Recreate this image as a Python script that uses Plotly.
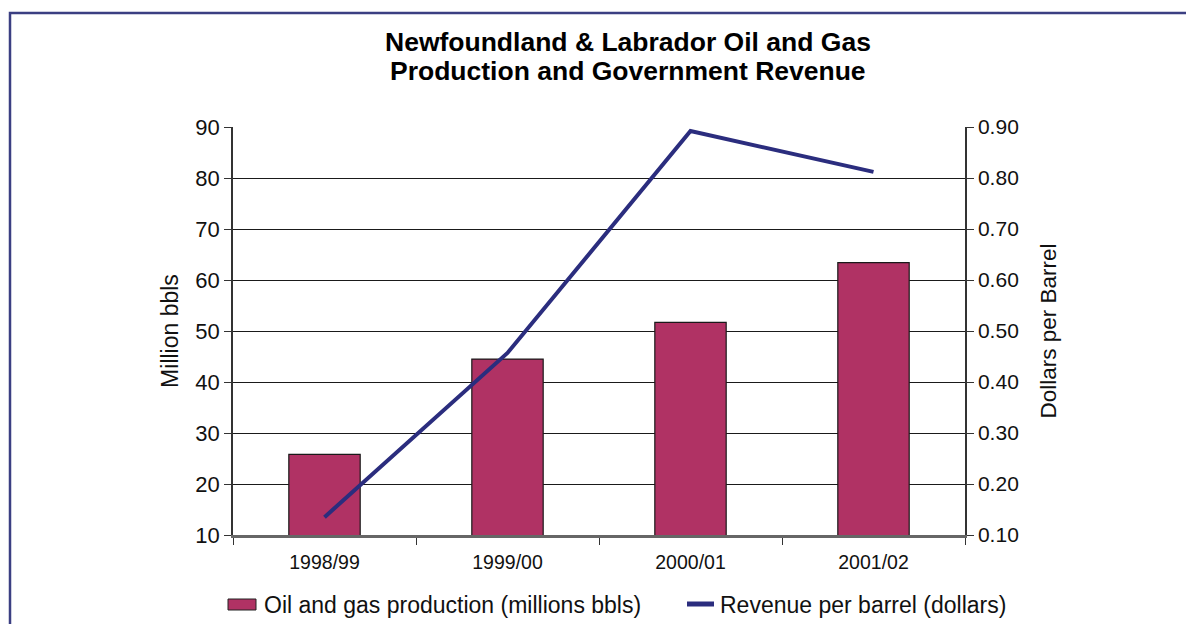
import plotly.graph_objects as go

# data
anos = ['1998/99', '1999/00', '2000/01', '2001/02']
producao = [25.8, 44.5, 51.7, 63.4]       # million bbls
receita_barril = [0.135, 0.457, 0.892, 0.812]  # dollars per barrel
titulo = ['Newfoundland & Labrador Oil and Gas', 'Production and Government Revenue']
nome_barras = 'Oil and gas production (millions bbls)'
nome_linha = 'Revenue per barrel (dollars)'

fonte = 'Liberation Sans, Arial, sans-serif'
cor_barra = '#b03264'
cor_linha = '#2b2d7e'

# the page has an 8px body margin, so figure is 8px smaller and margins shifted
L, T, PW, PH = 225, 119, 732, 408
W, H = 1186, 616


def py(ypix):
    # window pixel row -> paper y
    return 1 - (ypix - 8 - T) / PH


def px_(xpix):
    return (xpix - 8 - L) / PW


fig = go.Figure()

fig.add_trace(go.Bar(
    x=anos, y=producao, name=nome_barras,
    marker=dict(color=cor_barra, line=dict(color='#1a1a1a', width=1.2)),
    width=0.39,
))

fig.add_trace(go.Scatter(
    x=anos, y=receita_barril, name=nome_linha,
    mode='lines', line=dict(color=cor_linha, width=4),
    yaxis='y2',
))

anot = []
for i, t in enumerate(titulo):
    anot.append(dict(text='<b>' + t + '</b>', xref='paper', yref='paper',
                     x=px_(628), y=py([42, 71][i]), xanchor='center', yanchor='middle',
                     showarrow=False, font=dict(size=26.5, color='#000000')))

# legenda desenhada a mao (simbolos largos como no original)
for txt, xx in [(nome_barras, 262), (nome_linha, 718)]:
    anot.append(dict(text=txt, xref='paper', yref='paper', x=px_(xx), y=py(605),
                     xanchor='left', yanchor='middle', showarrow=False,
                     font=dict(size=23, color='#111111')))

formas = [
    dict(type='rect', xref='paper', yref='paper',
         x0=px_(10), x1=px_(1400), y0=py(800), y1=py(13),
         line=dict(color='#3b3f82', width=2.5), fillcolor='rgba(0,0,0,0)', layer='below'),
    dict(type='rect', xref='paper', yref='paper',
         x0=px_(228), x1=px_(256), y0=py(610), y1=py(599),
         line=dict(color='#222222', width=1), fillcolor=cor_barra),
    dict(type='line', xref='paper', yref='paper',
         x0=px_(687), x1=px_(714), y0=py(604), y1=py(604),
         line=dict(color=cor_linha, width=5)),
]

fig.update_layout(
    width=W, height=H,
    paper_bgcolor='white', plot_bgcolor='white',
    margin=dict(l=L, r=W - L - PW, t=T, b=H - T - PH, autoexpand=False),
    font=dict(family=fonte, size=20, color='#111111'),
    annotations=anot,
    shapes=formas,
    showlegend=False,
    xaxis=dict(
        type='category', showgrid=False, ticks='outside', tickson='boundaries',
        ticklen=7, tickcolor='#333333', showline=True, linecolor='#666666', linewidth=2.5,
        range=[-0.5, 3.5], tickfont=dict(size=19.5), ticklabelstandoff=8,
    ),
    yaxis=dict(
        title=dict(text='Million bbls', font=dict(size=23), standoff=10),
        range=[10, 90], dtick=10, tick0=10,
        showgrid=True, gridcolor='#1a1a1a', gridwidth=1,
        ticks='outside', ticklen=7, tickcolor='#333333',
        showline=True, linecolor='#333333', linewidth=1.5,
        zeroline=False, tickfont=dict(size=22),
    ),
    yaxis2=dict(
        title=dict(text='Dollars per Barrel', font=dict(size=22.5), standoff=22),
        overlaying='y', side='right',
        range=[0.1, 0.9], dtick=0.1, tick0=0.1, tickformat='.2f',
        showgrid=False, ticks='outside', ticklen=7, tickcolor='#333333',
        showline=True, linecolor='#333333', linewidth=1.5,
        zeroline=False, tickfont=dict(size=21),
    ),
)

fig.write_html('out.html')
